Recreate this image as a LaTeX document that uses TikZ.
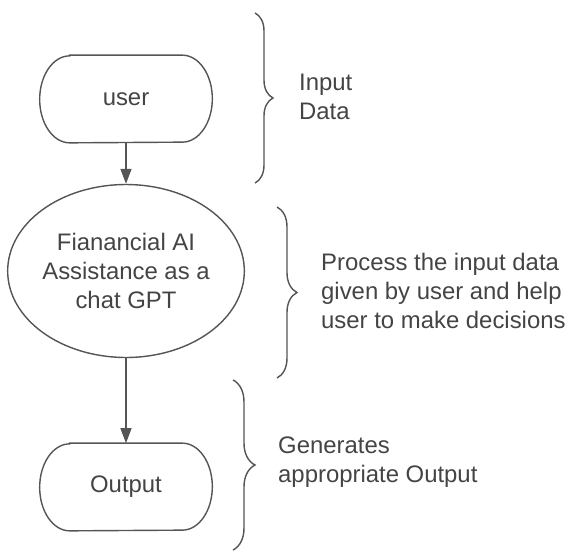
\documentclass[tikz,border=0pt]{standalone}
\usepackage{fontspec}
\setmainfont{Liberation Sans}
\usetikzlibrary{shapes.geometric,arrows.meta,decorations.pathreplacing}
\definecolor{ink}{HTML}{444444}
\definecolor{edge}{HTML}{555555}
\begin{document}
\begin{tikzpicture}[x=0.02cm,y=-0.02cm,
	every node/.style={text=ink,font=\fontsize{13.6}{16.5}\selectfont},
	term/.style={minimum width=3.44cm,minimum height=1.74cm,inner sep=0pt},
	bubble/.style={draw=edge,line width=.8pt,ellipse,minimum width=4.36cm,minimum height=3.46cm,inner sep=0pt,align=center},
	flow/.style={draw=edge,line width=.8pt,-{Triangle[length=.3cm,width=.22cm]}},
	note/.style={anchor=west,align=left},
	curly/.style={draw=edge,line width=.8pt,decorate,decoration={brace,amplitude=#1}}]
	\useasboundingbox (0,0) rectangle (572,552);
	\node[term] (user) at (126,99) {user};
	\node[bubble] (gpt) at (126,271) {Fianancial AI\\Assistance as a\\chat GPT};
	\node[term] (out) at (126,487) {Output};
	% terminator outlines
	\foreach \n in {user,out}
		\draw[draw=edge,line width=.8pt] ([xshift=.6cm]\n.north west) -- ([xshift=-.6cm]\n.north east) arc[start angle=90,end angle=-90,x radius=.6cm,y radius=.87cm] -- ([xshift=.6cm]\n.south west) arc[start angle=270,end angle=90,x radius=.6cm,y radius=.87cm] -- cycle;
	\draw[flow] (user) -- (gpt);
	\draw[flow] (gpt) -- (out);
	\draw[curly=.36cm] (255,13) -- (255,183);
	\draw[curly=.4cm] (277,207) -- (277,378);
	\draw[curly=.44cm] (233,380) -- (233,550);
	\node[note] (intxt) at (293,97) {Input\\Data};
	\node[note] (proctxt) at (315,291) {Process the input data\\given by user and help\\user to make decisions};
	\node[note] (outtxt) at (272,462) {Generates\\appropriate Output};
	%	\draw[dotted] (user.east) -- (intxt.west);
\end{tikzpicture}
\end{document}
